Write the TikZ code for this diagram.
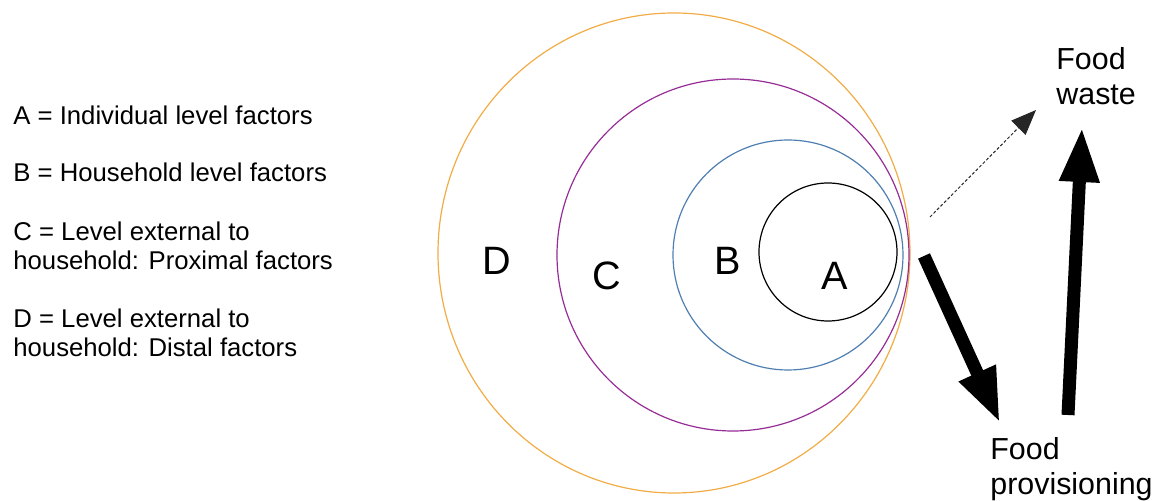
\documentclass[tikz,border=0pt]{standalone}
\usepackage{fontspec}
\setmainfont{Liberation Sans}
\usetikzlibrary{arrows.meta,shapes.geometric}
\definecolor{ringorange}{HTML}{F2AC45}
\definecolor{ringpurple}{HTML}{962D96}
\definecolor{ringblue}{HTML}{4F7FB0}

\begin{document}
\begin{tikzpicture}[x=0.5pt, y=-0.5pt, every node/.style={inner sep=0pt},
  ring/.style={ellipse, draw, line width=0.6pt},
  legendtext/.style={anchor=base west, align=left, font=\fontsize{12.85}{14.75}\selectfont},
  bigletter/.style={anchor=base, font=\fontsize{19.8}{22}\selectfont},
  outcome/.style={anchor=base west, align=left, font=\fontsize{15.2}{17.5}\selectfont},
  fatarrow/.style={line width=6.5pt, -{Triangle[length=27.5pt,width=18.5pt]}},
  dotarrow/.style={draw=black!85, line width=0.5pt, dash pattern=on 1.5pt off 1pt, -{Triangle[length=12.5pt,width=10pt]}}]
\useasboundingbox (0,0) rectangle (1169,501);
% legend (base = last line)
\node[legendtext] (legA) at (13,125) {A = Individual level factors};
\node[legendtext] (legB) at (13,182) {B = Household level factors};
\node[legendtext] (legC) at (13,270) {C = Level external to\\household: Proximal factors};
\node[legendtext] (legD) at (13,357) {D = Level external to\\household: Distal factors};
% nested levels
\node[ring, draw=ringorange, minimum width=236pt, minimum height=240pt] (ringD) at (674,253) {};
\node[ring, draw=ringpurple, minimum width=176pt, minimum height=176pt] (ringC) at (733,255) {};
\node[ring, draw=ringblue, minimum width=115pt, minimum height=115pt] (ringB) at (788,255) {};
\node[ring, draw=black, minimum width=69pt, minimum height=69pt] (ringA) at (828,252) {};
\node[bigletter] (labD) at (497,275) {D};
\node[bigletter] (labC) at (607,290) {C};
\node[bigletter] (labB) at (728,275) {B};
\node[bigletter] (labA) at (835,290) {A};
% outcomes
\node[outcome] (waste) at (1056,105) {Food\\waste};
\node[outcome] (prov) at (990,495) {Food\\provisioning};
\coordinate (dotfrom) at (930,217);
\coordinate (dotto) at (1036,110);
\coordinate (provfrom) at (924,256);
\coordinate (provto) at (1000,423);
\coordinate (wastefrom) at (1068,415);
\coordinate (wasteto) at (1082,127);
\draw[dotarrow] (dotfrom) -- (dotto);
\draw[fatarrow] (provfrom) -- (provto);
\draw[fatarrow] (wastefrom) -- (wasteto);
\end{tikzpicture}
\end{document}
